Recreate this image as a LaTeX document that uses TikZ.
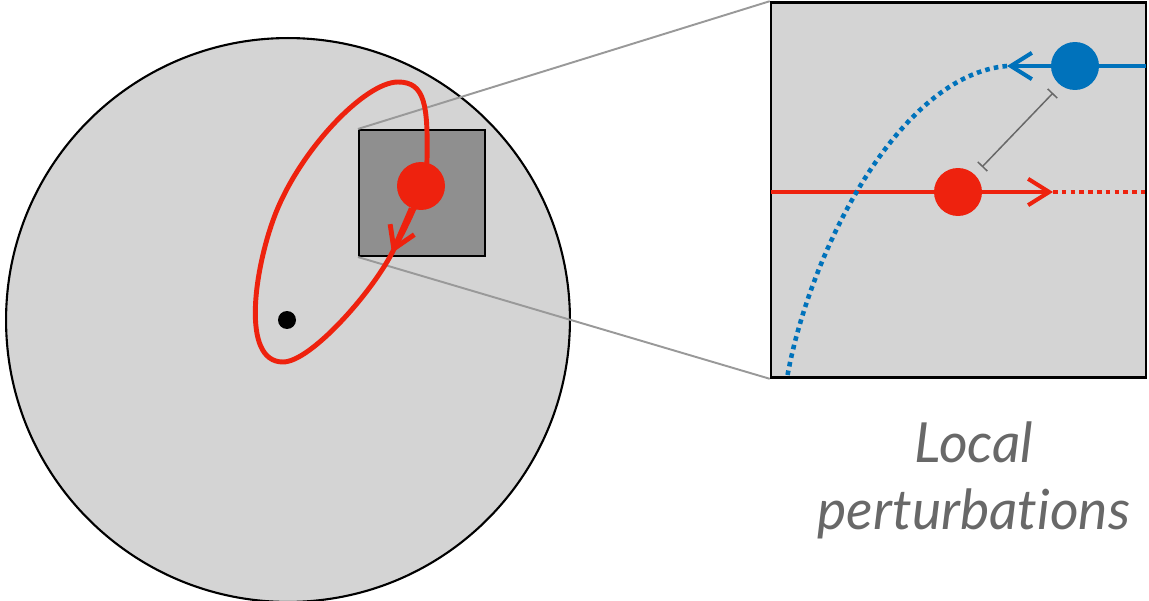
\documentclass[tikz,border=0pt]{standalone}
\usepackage{fontspec}
\newfontfamily\captionfont{Lato}[Ligatures={NoCommon,NoRare}]
\definecolor{OrbitRed}{RGB}{238,34,14}
\definecolor{PerturbBlue}{RGB}{0,114,187}
\definecolor{PanelGray}{RGB}{212,212,212}
\definecolor{BoxGray}{RGB}{143,143,143}
\definecolor{LinkGray}{RGB}{153,153,153}
\definecolor{TextGray}{RGB}{104,104,104}
\usetikzlibrary{arrows.meta, positioning}
\tikzset{
  barb/.style={-{Straight Barb[length=12pt, width=15pt]}},
  dotline/.style={line width=2.6pt, dash pattern=on 2.6pt off 2.4pt},
  ball/.style={circle, inner sep=0pt, minimum size=0.96cm},
  track/.style={line width=2.3pt},
}

\begin{document}
\begin{tikzpicture}[x=0.02cm, y=-0.02cm]
          \useasboundingbox (0,0) rectangle (1149,601);
          \draw[line width=1.2pt, fill=PanelGray] (288,320) circle (5.64cm);
          \node[draw, line width=1.2pt, fill=BoxGray, minimum size=2.52cm, inner sep=0pt] (zoombox) at (422,193) {};
          \node[draw, line width=1.5pt, fill=PanelGray, minimum size=7.5cm, inner sep=0pt] (inset) at (958.5,190) {};
          \draw[LinkGray, line width=1.1pt] (zoombox.north west) -- (inset.north west);
          \draw[LinkGray, line width=1.1pt] (zoombox.south west) -- (inset.south west);
          \draw[OrbitRed, line width=2.8pt] (427,160) .. controls (428,105) and (425,82) .. (398,82)
            .. controls (365,82) and (300,150) .. (275,215)
            .. controls (255,267) and (240,362) .. (283,362)
            .. controls (310,362) and (370,295) .. (392,253)
            .. controls (405,228) and (426,190) .. cycle;
          \node[ball, fill=OrbitRed] (planet) at (421,186) {};
          \coordinate (orbtip) at (392,253);
          \draw[OrbitRed, line width=2.8pt, barb] (planet) -- (orbtip);
          \node[circle, fill=black, inner sep=0pt, minimum size=0.36cm] (focus) at (287,320) {};
          \node[ball, fill=OrbitRed] (redball) at (958,192) {};
          \coordinate (redstart) at (771,192);
          \coordinate (redtip) at (1053,192);
          \coordinate (redend) at (1146,192);
          \draw[OrbitRed, track] (redstart) -- (redball);
          \draw[OrbitRed, track, barb] (redball) -- (redtip);
          \draw[OrbitRed, dotline] (redtip) -- (redend);
          \node[ball, fill=PerturbBlue] (blueball) at (1075,66) {};
          \coordinate (blueedge) at (1146,66);
          \coordinate (bluetip) at (1007,66);
          \coordinate (blueend) at (787,378);
          \draw[PerturbBlue, track] (blueball) -- (blueedge);
          \draw[PerturbBlue, track, barb] (blueball) -- (bluetip);
          \draw[PerturbBlue, dotline] (bluetip) .. controls (900,75) and (810,250) .. (blueend);
          \coordinate (gapa) at (982,167);
          \coordinate (gapb) at (1053,93);
          \draw[TextGray, line width=0.85pt, {Bar[width=7.5pt]}-{Bar[width=7.5pt]}] (gapa) -- (gapb);
          \node[TextGray, font=\captionfont\itshape\fontsize{31.5}{38}\selectfont, align=center] (caption) at (974,480) {Local\\perturbations};
        \end{tikzpicture}
\end{document}
